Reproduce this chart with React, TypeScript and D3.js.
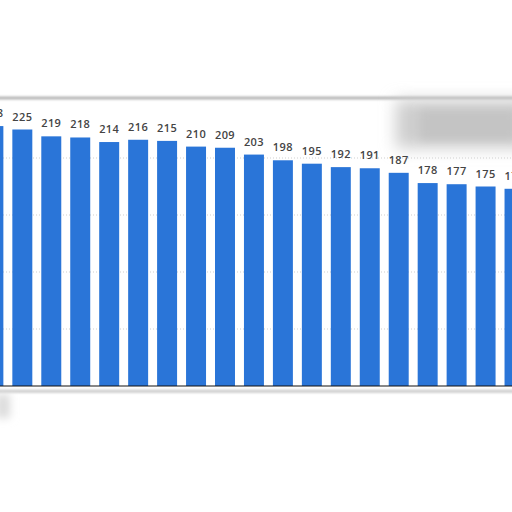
import React from 'react';
import { scaleBand, scaleLinear } from 'd3';

// visible part of the chart: first and last bars are cut by the frame
const categories = [
  'c01', 'c02', 'c03', 'c04', 'c05', 'c06', 'c07', 'c08', 'c09', 'c10',
  'c11', 'c12', 'c13', 'c14', 'c15', 'c16', 'c17', 'c18', 'c19',
];
const values = [228, 225, 219, 218, 214, 216, 215, 210, 209, 203, 198, 195, 192, 191, 187, 178, 177, 175, 173];
const gridTicks = [50, 100, 150, 200];

const width = 512;
const height = 512;

export default function App() {
  const xScale = scaleBand<string>()
    .domain(categories)
    .range([-21.1, 529])
    .paddingInner(0.31)
    .paddingOuter(0.155);

  const yScale = scaleLinear().domain([0, 250]).range([386, 101]);

  const baseY = yScale(0);

  return (
    <svg
      width={width}
      height={height}
      style={{ position: 'absolute', left: 0, top: 0, background: '#fff' }}
    >
      <defs>
        <filter id='blurBig' filterUnits='userSpaceOnUse' x={0} y={0} width={512} height={512}>
          <feGaussianBlur stdDeviation='8' />
        </filter>
        <filter id='blurSmall' filterUnits='userSpaceOnUse' x={-20} y={0} width={560} height={512}>
          <feGaussianBlur stdDeviation='1.2' />
        </filter>
        <filter id='blurMid' filterUnits='userSpaceOnUse' x={-20} y={0} width={560} height={512}>
          <feGaussianBlur stdDeviation='4' />
        </filter>
      </defs>

      {/* card frame edges (blurred) */}
      <rect x={-10} y={96.5} width={530} height={3} fill='#b5b5b5' filter='url(#blurSmall)' />
      <rect x={-10} y={389.5} width={530} height={3.5} fill='#d2d2d2' filter='url(#blurSmall)' />
      <rect x={-4} y={394} width={14} height={24} fill='#dcdcdc' filter='url(#blurMid)' />

      {/* blurred blob top right */}
      <rect x={396} y={100} width={134} height={48} fill='#cdcdcd' filter='url(#blurBig)' />
      <rect x={420} y={110} width={96} height={30} fill='#c4c4c4' filter='url(#blurMid)' />

      {/* gridlines */}
      {gridTicks.map(t => (
        <line
          key={t}
          x1={0}
          x2={width}
          y1={yScale(t)}
          y2={yScale(t)}
          stroke='#cfcfcf'
          strokeWidth={1}
          strokeDasharray='1,2'
        />
      ))}

      {/* bars */}
      {categories.map((c, i) => (
        <rect
          key={c}
          x={xScale(c)}
          y={yScale(values[i])}
          width={xScale.bandwidth()}
          height={baseY - yScale(values[i])}
          fill='#2a75d8'
        />
      ))}

      {/* value labels */}
      {categories.map((c, i) => (
        <text
          key={'l' + c}
          x={(xScale(c) ?? 0) + xScale.bandwidth() / 2}
          y={yScale(values[i]) - 9}
          textAnchor='middle'
          fontFamily='"Open Sans", sans-serif'
          fontWeight={600}
          fontSize={11}
          letterSpacing={0.4}
          fill='#444'
        >
          {values[i]}
        </text>
      ))}

      {/* baseline */}
      <line x1={0} x2={width} y1={baseY} y2={baseY} stroke='#111' strokeWidth={1.2} />
    </svg>
  );
}
